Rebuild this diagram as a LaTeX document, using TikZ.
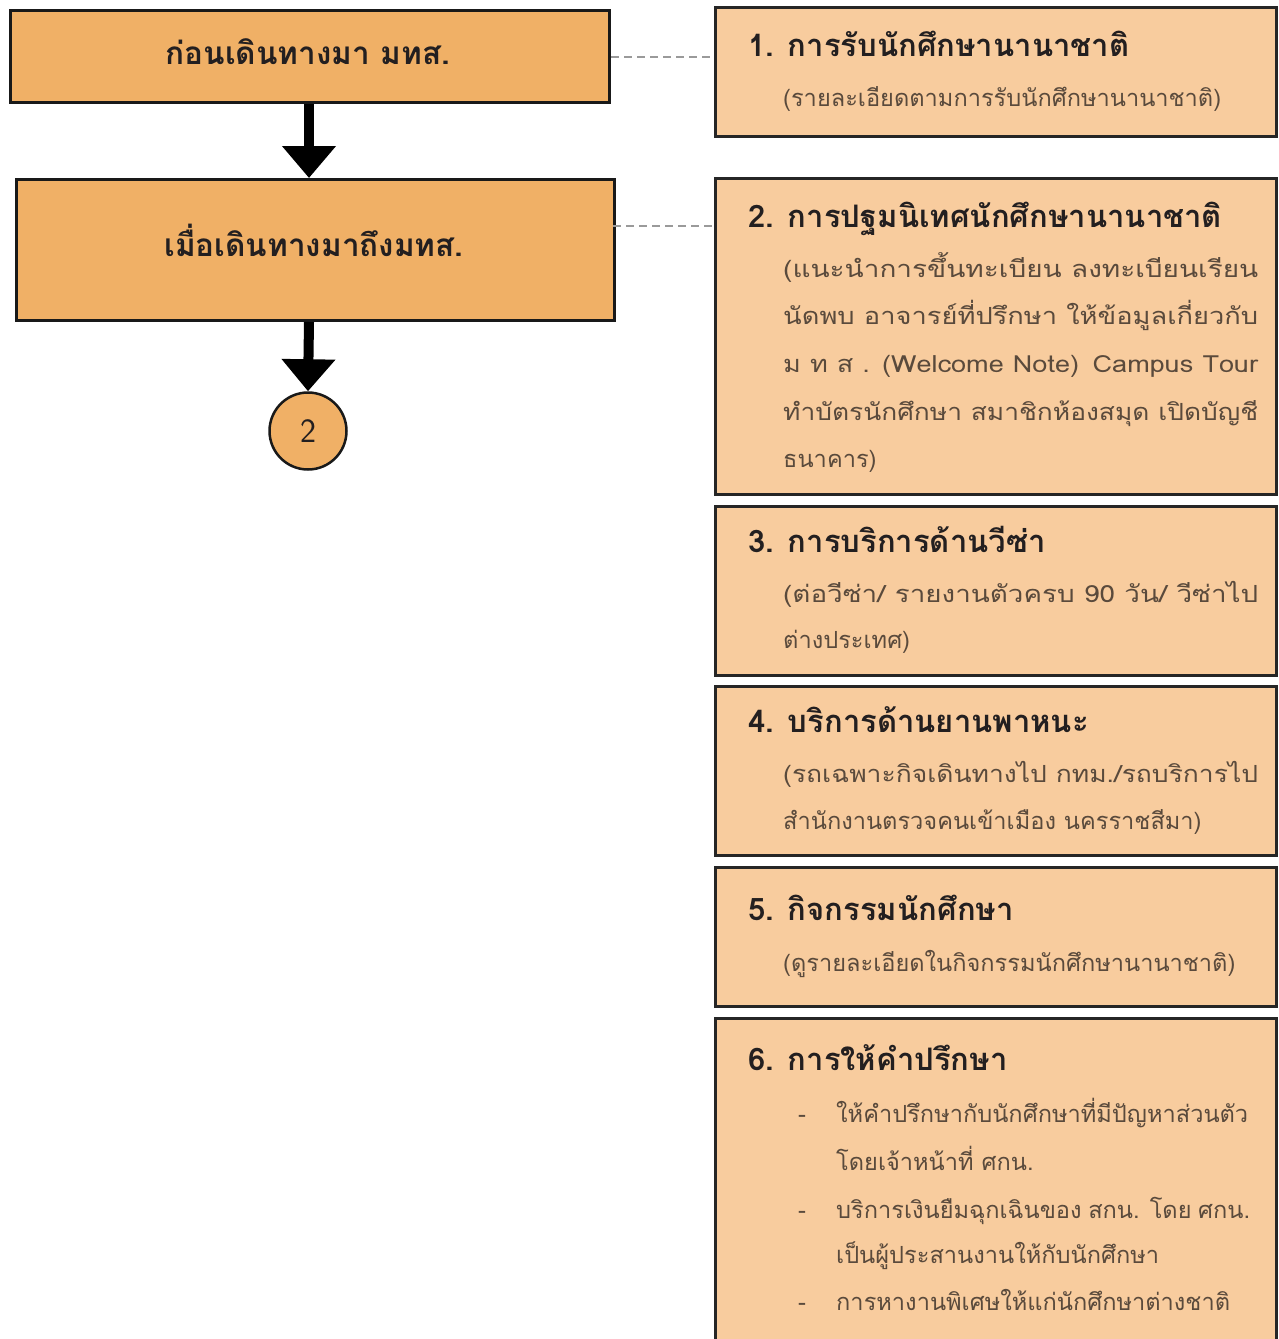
\documentclass[tikz,border=0pt]{standalone}
\usepackage{fontspec}
\usepackage{graphicx}
\newfontfamily\thaifont[Script=Thai]{Loma}
\usetikzlibrary{arrows.meta,calc}
\definecolor{lboxc}{HTML}{F0B066}
\definecolor{rboxc}{HTML}{F8CC9E}
\definecolor{ttlc}{HTML}{231F20}
\definecolor{bdyc}{HTML}{5A4A3C}
\definecolor{dshc}{HTML}{9A9A9A}
\newcommand\jline[2]{\resizebox{#1}{\height}{#2}}
\begin{document}
\begin{tikzpicture}[x=1pt,y=-1pt,
  leftbox/.style={draw=black!90, line width=3pt, fill=lboxc, anchor=north west, inner sep=0pt},
  rightbox/.style={draw=black!85, line width=2.5pt, fill=rboxc, anchor=north west, inner sep=0pt},
  lefttext/.style={anchor=base, inner sep=0pt, font=\thaifont\bfseries\fontsize{31.5}{34}\selectfont, text=ttlc},
  ttltext/.style={anchor=base west, inner sep=0pt, font=\thaifont\bfseries\fontsize{31}{34}\selectfont, text=ttlc},
  bodytext/.style={anchor=base west, inner sep=0pt, font=\thaifont\fontsize{23.6}{28}\selectfont, text=bdyc},
  numtext/.style={anchor=center, inner sep=0pt, font=\sffamily\fontsize{34}{38}\selectfont, text=ttlc},
  flow/.style={line width=10pt, -{Triangle[width=52pt,length=32pt]}},
  guide/.style={draw=dshc, line width=2pt, dash pattern=on 8pt off 5pt}]
\useasboundingbox (0,0) rectangle (1278,1339);
\clip (0,0) rectangle (1278,1339);
\fill[white] (0,0) rectangle (1278,1339);

% left flow
\node[leftbox, minimum width=599pt, minimum height=92pt] (a) at (9,9) {};
\node[leftbox, minimum width=598pt, minimum height=141pt] (b) at (15,178) {};
\node[draw=black!90, line width=2.5pt, fill=lboxc, circle, minimum size=77pt, inner sep=0pt] (c) at (308,431) {};
\node[lefttext] (at) at (308,64) {ก่อนเดินทางมา มทส.};
\node[lefttext] (bt) at (314,256) {เมื่อเดินทางมาถึงมทส.};
\node[numtext] (ct) at (c.center) {2};
\draw[flow] (a.south -| 309,0) -- (b.north -| 309,0);
\draw[flow] (b.south -| 309,0) -- (c.north);

% right boxes
\node[rightbox, minimum width=561pt, minimum height=129pt] (r1) at (714,6) {};
\node[rightbox, minimum width=561pt, minimum height=316pt] (r2) at (714,177) {};
\node[rightbox, minimum width=561pt, minimum height=169pt] (r3) at (714,505) {};
\node[rightbox, minimum width=561pt, minimum height=169pt] (r4) at (714,685) {};
\node[rightbox, minimum width=561pt, minimum height=139pt] (r5) at (714,866) {};
\node[rightbox, minimum width=561pt, minimum height=340pt] (r6) at (714,1017) {};

% dashed guides
\draw[guide] (a.east) -- (a.east -| r1.west);
\coordinate (d2) at (613,226);
\draw[guide] (d2) -- (d2 -| r2.west);

% box 1
\node[ttltext] (t1) at (748,56) {1. การรับนักศึกษานานาชาติ};
\node[bodytext] (b1) at (783,106) {(รายละเอียดตามการรับนักศึกษานานาชาติ)};
% box 2
\node[ttltext] (t2) at (748,227) {2. การปฐมนิเทศนักศึกษานานาชาติ};
\node[bodytext] (b2a) at (783,277) {\jline{475pt}{(แนะนำการขึ้นทะเบียน ลงทะเบียนเรียน}};
\node[bodytext] (b2b) at (783,324) {\jline{475pt}{นัดพบ อาจารย์ที่ปรึกษา ให้ข้อมูลเกี่ยวกับ}};
\node[bodytext] (b2c) at (783,372) {\jline{475pt}{ม\,\,ท\,\,ส\,\,. (Welcome Note)\, Campus Tour}};
\node[bodytext] (b2d) at (783,420) {\jline{475pt}{ทำบัตรนักศึกษา สมาชิกห้องสมุด เปิดบัญชี}};
\node[bodytext] (b2e) at (783,467) {ธนาคาร)};
% box 3
\node[ttltext] (t3) at (748,552) {3. การบริการด้านวีซ่า};
\node[bodytext] (b3a) at (783,602) {\jline{475pt}{(ต่อวีซ่า/ รายงานตัวครบ 90 วัน/ วีซ่าไป}};
\node[bodytext] (b3b) at (783,648) {ต่างประเทศ)};
% box 4
\node[ttltext] (t4) at (748,732) {4. บริการด้านยานพาหนะ};
\node[bodytext] (b4a) at (783,782) {\jline{475pt}{(รถเฉพาะกิจเดินทางไป กทม./รถบริการไป}};
\node[bodytext] (b4b) at (783,829) {สำนักงานตรวจคนเข้าเมือง นครราชสีมา)};
% box 5
\node[ttltext] (t5) at (748,920) {5. กิจกรรมนักศึกษา};
\node[bodytext] (b5) at (783,971) {(ดูรายละเอียดในกิจกรรมนักศึกษานานาชาติ)};
% box 6
\node[ttltext] (t6) at (748,1070) {6. การให้คำปรึกษา};
\node[bodytext] (d6a) at (798,1122) {-};
\node[bodytext] (b6a) at (836,1122) {ให้คำปรึกษากับนักศึกษาที่มีปัญหาส่วนตัว};
\node[bodytext] (b6b) at (836,1170) {โดยเจ้าหน้าที่ ศกน.};
\node[bodytext] (d6b) at (798,1218) {-};
\node[bodytext] (b6c) at (836,1218) {\makebox[414pt][s]{บริการเงินยืมฉุกเฉินของ สกน. โดย ศกน.}};
\node[bodytext] (b6d) at (836,1263) {เป็นผู้ประสานงานให้กับนักศึกษา};
\node[bodytext] (d6c) at (798,1310) {-};
\node[bodytext] (b6e) at (836,1310) {การหางานพิเศษให้แก่นักศึกษาต่างชาติ};
\end{tikzpicture}
\end{document}
